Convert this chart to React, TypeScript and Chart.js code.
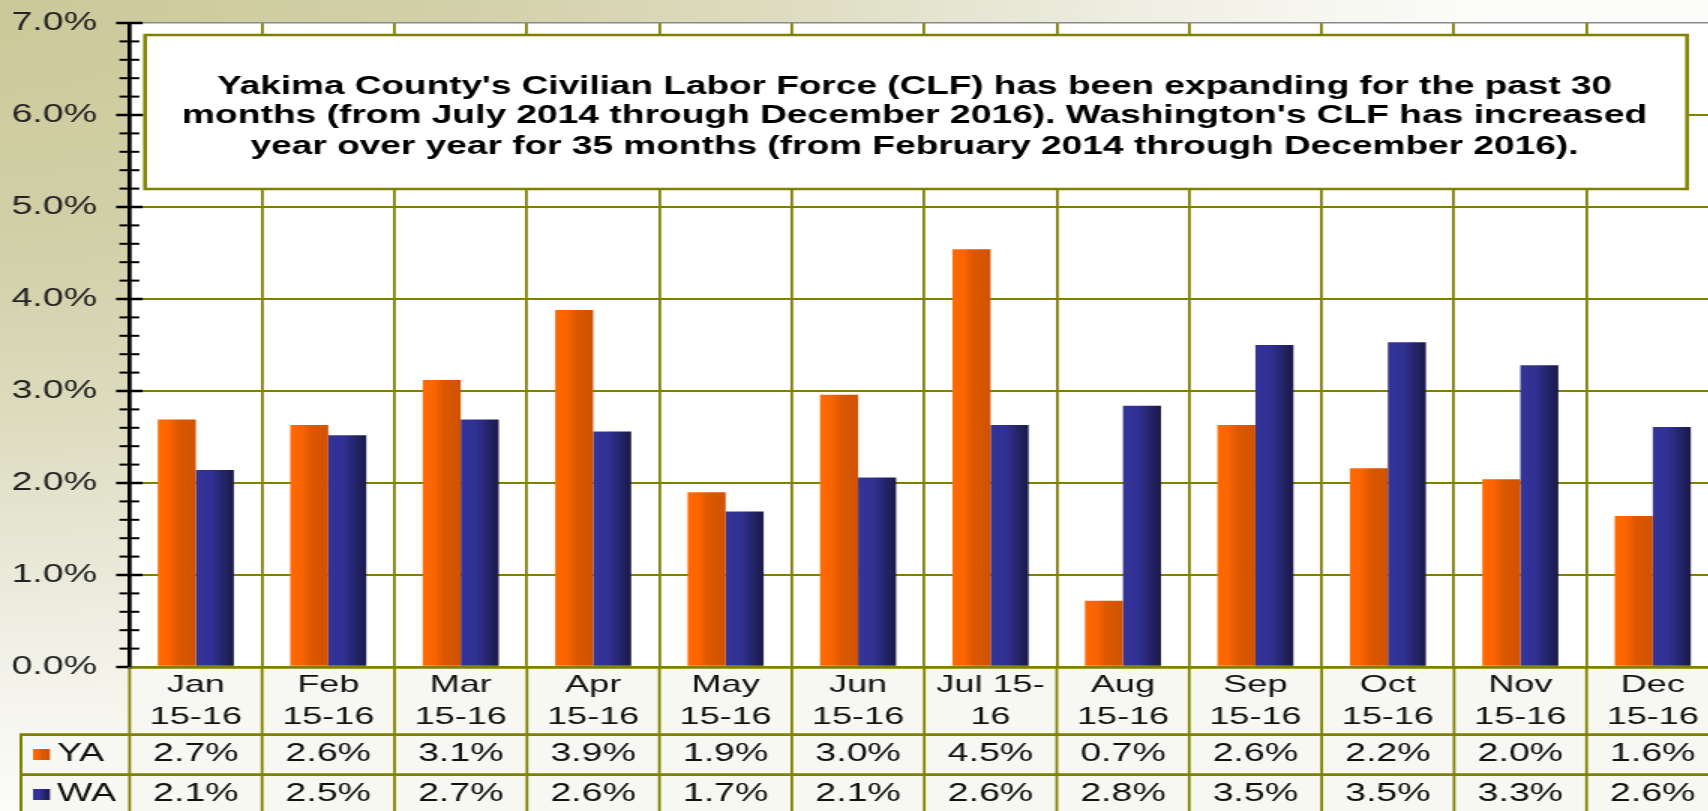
import React, { useEffect, useRef } from "react";
import { Chart, registerables } from "chart.js";

Chart.register(...registerables);

// ---------------- data ----------------
const categories: string[][] = [
  ["Jan", "15-16"],
  ["Feb", "15-16"],
  ["Mar", "15-16"],
  ["Apr", "15-16"],
  ["May", "15-16"],
  ["Jun", "15-16"],
  ["Jul 15-", "16"],
  ["Aug", "15-16"],
  ["Sep", "15-16"],
  ["Oct", "15-16"],
  ["Nov", "15-16"],
  ["Dec", "15-16"],
];
const seriesLabels = ["YA", "WA"];
const yakimaValues = [2.69, 2.63, 3.12, 3.88, 1.9, 2.96, 4.54, 0.72, 2.63, 2.16, 2.04, 1.64];
const washingtonValues = [2.14, 2.52, 2.69, 2.56, 1.69, 2.06, 2.63, 2.84, 3.5, 3.53, 3.28, 2.61];
const yMin = 0;
const yMax = 7;
const yStep = 1;
const yMinorStep = 0.2;
const titleLines = [
  "Yakima County's Civilian Labor Force (CLF) has been expanding for the past 30",
  "months (from July 2014 through December 2016). Washington's CLF has increased",
  "year over year for 35 months (from February 2014 through December 2016).",
];

// ---------------- layout / style ----------------
const FONT = "'Liberation Sans', Arial, Helvetica, sans-serif";
const OLIVE = "#808000";
const STRETCH = 1.5; // the whole picture is stretched horizontally
const VIEW_W = 1708;
const VIEW_H = 811;
const AXIS_W = 86.4; // logical px (before stretch)
const CAT_W = 88.27;
const LOGICAL_W = Math.round(AXIS_W + CAT_W * categories.length);
const PLOT_TOP = 23;
const PLOT_BOTTOM = 667;
const CAT_PCT = 0.574;
const ROW1_TOP = 734.7;
const ROW2_TOP = 774.7;
const ROW_H = 40;
const ROW_TEXT_Y = [754.5, 794.5];
const LEGEND_LEFT = 14;
const BOX = { left: 96.7, top: 35, right: 1124.7, bottom: 189 };
const TITLE_CX = 609.7;
const TITLE_BASE = [93.5, 123, 153.5];
const TITLE_W = [930, 976.7, 885.3];

const ORANGE_STOPS: [number, string][] = [
  [0, "#ff6a00"],
  [0.3, "#fb6400"],
  [0.55, "#dc5800"],
  [1, "#d05200"],
];
const BLUE_STOPS: [number, string][] = [
  [0, "#343499"],
  [0.4, "#313194"],
  [0.7, "#25256c"],
  [1, "#1a1a47"],
];

function makeGrad(ctx: CanvasRenderingContext2D, x0: number, w: number, stops: [number, string][]) {
  const g = ctx.createLinearGradient(x0, 0, x0 + w, 0);
  stops.forEach(([o, c]) => g.addColorStop(o, c));
  return g;
}

function barFill(c: any, dsIndex: number) {
  const chart = c.chart;
  const xs = chart.scales && chart.scales.x;
  const solid = dsIndex === 0 ? "#ee6000" : "#2c2c85";
  if (c.type !== "data" || !xs || !chart.chartArea) return solid;
  const center = xs.getPixelForValue(c.dataIndex);
  const catW = (xs.right - xs.left) / categories.length;
  const bw = (catW * CAT_PCT) / 2;
  const x0 = dsIndex === 0 ? center - bw : center;
  return makeGrad(chart.ctx, x0, bw, dsIndex === 0 ? ORANGE_STOPS : BLUE_STOPS);
}

const backgroundPlugin = {
  id: "bgFill",
  beforeDraw(chart: any) {
    const { ctx, chartArea: ca, width, height } = chart;
    ctx.save();
    ctx.fillStyle = "#ffffff";
    ctx.fillRect(ca.left, ca.top, ca.right - ca.left, ca.bottom - ca.top);
    ctx.fillStyle = "#f8f8f3";
    ctx.fillRect(ca.left, ca.bottom, width - ca.left, height - ca.bottom);
    ctx.fillRect(LEGEND_LEFT, ROW1_TOP, ca.left - LEGEND_LEFT, height - ROW1_TOP);
    ctx.restore();
  },
};

const tickMarksPlugin = {
  id: "tickMarks",
  afterDatasetsDraw(chart: any) {
    const { ctx } = chart;
    const ys = chart.scales.y;
    const x0 = ys.right;
    const count = Math.round((yMax - yMin) / yMinorStep);
    const perMajor = Math.round(yStep / yMinorStep);
    ctx.save();
    ctx.fillStyle = "#000";
    for (let k = 0; k <= count; k++) {
      const v = yMin + k * yMinorStep;
      const y = ys.getPixelForValue(v);
      const major = k % perMajor === 0;
      const l = major ? 9 : 6.8;
      const r = k === 0 ? 0 : major ? 8.7 : 6.5;
      const h = major ? 2.5 : 2;
      ctx.fillRect(x0 - l, y - h / 2, l + r, h);
    }
    ctx.restore();
  },
};

const tablePlugin = {
  id: "dataTable",
  afterDraw(chart: any) {
    const { ctx, chartArea: ca, width, height } = chart;
    const xs = chart.scales.x;
    const n = categories.length;
    const half = (xs.getPixelForValue(1) - xs.getPixelForValue(0)) / 2;
    ctx.save();
    ctx.strokeStyle = OLIVE;
    // horizontal row lines
    ctx.lineWidth = 2.7;
    [ROW1_TOP, ROW2_TOP, ROW2_TOP + ROW_H].forEach((yy) => {
      ctx.beginPath();
      ctx.moveTo(LEGEND_LEFT - 1, yy);
      ctx.lineTo(width, yy);
      ctx.stroke();
    });
    // vertical column lines
    ctx.lineWidth = 1.8;
    for (let i = 0; i <= n; i++) {
      const x = i < n ? xs.getPixelForValue(i) - half : xs.getPixelForValue(n - 1) + half;
      ctx.beginPath();
      ctx.moveTo(x, ca.bottom);
      ctx.lineTo(x, height);
      ctx.stroke();
    }
    ctx.lineWidth = 2;
    ctx.beginPath();
    ctx.moveTo(LEGEND_LEFT, ROW1_TOP);
    ctx.lineTo(LEGEND_LEFT, height);
    ctx.stroke();

    // values
    const rows = [yakimaValues, washingtonValues];
    ctx.font = `25px ${FONT}`;
    ctx.fillStyle = "#111";
    ctx.textAlign = "center";
    ctx.textBaseline = "middle";
    rows.forEach((vals, r) => {
      vals.forEach((v, i) => {
        ctx.fillText(`${v.toFixed(1)}%`, xs.getPixelForValue(i), ROW_TEXT_Y[r]);
      });
    });

    // legend keys
    ctx.textAlign = "left";
    seriesLabels.forEach((lab, r) => {
      const cy = ROW_TEXT_Y[r];
      ctx.fillStyle = makeGrad(ctx, 22, 11.3, r === 0 ? ORANGE_STOPS : BLUE_STOPS);
      ctx.fillRect(22, cy - 5.5, 11.3, 11);
      ctx.fillStyle = "#111";
      ctx.fillText(lab, 38, cy);
    });
    ctx.restore();
  },
};

const titleBoxPlugin = {
  id: "titleBox",
  afterDraw(chart: any) {
    const { ctx } = chart;
    ctx.save();
    ctx.fillStyle = "#ffffff";
    ctx.fillRect(BOX.left, BOX.top, BOX.right - BOX.left, BOX.bottom - BOX.top);
    ctx.strokeStyle = OLIVE;
    ctx.lineWidth = 2.5;
    ctx.strokeRect(BOX.left, BOX.top, BOX.right - BOX.left, BOX.bottom - BOX.top);
    ctx.font = `bold 25px ${FONT}`;
    ctx.fillStyle = "#000";
    ctx.textAlign = "center";
    ctx.textBaseline = "alphabetic";
    titleLines.forEach((t, i) => {
      const m = ctx.measureText(t).width;
      const k = TITLE_W[i] / m;
      ctx.save();
      ctx.translate(TITLE_CX, TITLE_BASE[i]);
      ctx.scale(k, 1);
      ctx.fillText(t, 0, 0);
      ctx.restore();
    });
    ctx.restore();
  },
};

export default function App() {
  const canvasRef = useRef<HTMLCanvasElement | null>(null);

  useEffect(() => {
    if (!canvasRef.current) return;
    const chart = new Chart(canvasRef.current, {
      type: "bar",
      data: {
        labels: categories,
        datasets: [
          {
            label: seriesLabels[0],
            data: yakimaValues,
            backgroundColor: (c: any) => barFill(c, 0),
            borderWidth: 0,
            categoryPercentage: CAT_PCT,
            barPercentage: 1,
          },
          {
            label: seriesLabels[1],
            data: washingtonValues,
            backgroundColor: (c: any) => barFill(c, 1),
            borderWidth: 0,
            categoryPercentage: CAT_PCT,
            barPercentage: 1,
          },
        ],
      },
      options: {
        responsive: false,
        animation: false,
        devicePixelRatio: 1,
        layout: { padding: { top: PLOT_TOP, left: 0, right: 0, bottom: 0 } },
        plugins: {
          legend: { display: false },
          tooltip: { enabled: false },
          title: { display: false },
        },
        scales: {
          x: {
            type: "category",
            offset: true,
            grid: {
              offset: true,
              drawTicks: false,
              color: (c: any) => (c.index === 0 ? "rgba(0,0,0,0)" : OLIVE),
              lineWidth: 1.8,
            },
            border: { display: false },
            ticks: {
              autoSkip: false,
              maxRotation: 0,
              minRotation: 0,
              padding: 2,
              color: "#111",
              font: { family: FONT, size: 24, lineHeight: 32 / 24 },
            },
            afterFit: (s: any) => {
              s.height = VIEW_H - PLOT_BOTTOM;
              s.paddingLeft = 0;
              s.paddingRight = 0;
            },
          },
          y: {
            min: yMin,
            max: yMax,
            grid: {
              drawTicks: false,
              color: (c: any) => (c.tick && c.tick.value === yMax ? "#8a8a8a" : OLIVE),
              lineWidth: (c: any) =>
                c.tick && c.tick.value === yMax ? 1.6 : c.tick && c.tick.value === yMin ? 2.7 : 2,
            },
            border: { color: "#000", width: 2.7 },
            ticks: {
              stepSize: yStep,
              padding: 21.7,
              color: "#222",
              font: { family: FONT, size: 25 },
              callback: (v: any) => `${Number(v).toFixed(1)}%`,
            },
            afterFit: (s: any) => {
              s.width = AXIS_W;
              s.paddingTop = 0;
              s.paddingBottom = 0;
            },
          },
        },
      },
      plugins: [backgroundPlugin, tickMarksPlugin, tablePlugin, titleBoxPlugin],
    });
    return () => chart.destroy();
  }, []);

  return (
    <div
      style={{
        position: "fixed",
        left: 0,
        top: 0,
        width: VIEW_W,
        height: VIEW_H,
        overflow: "hidden",
        background:
          "radial-gradient(ellipse 1500px 820px at 0px 0px, #cbc999 0%, #d2d0a8 30%, #dcdbbd 50%, #ebebdd 72%, #f6f6ef 87%, #fcfcfa 100%)",
      }}
    >
      <div
        style={{
          position: "absolute",
          left: 0,
          top: 0,
          width: LOGICAL_W,
          height: VIEW_H,
          transform: `scaleX(${STRETCH})`,
          transformOrigin: "0 0",
        }}
      >
        <canvas
          ref={canvasRef}
          width={LOGICAL_W}
          height={VIEW_H}
          style={{ display: "block" }}
        />
      </div>
    </div>
  );
}
